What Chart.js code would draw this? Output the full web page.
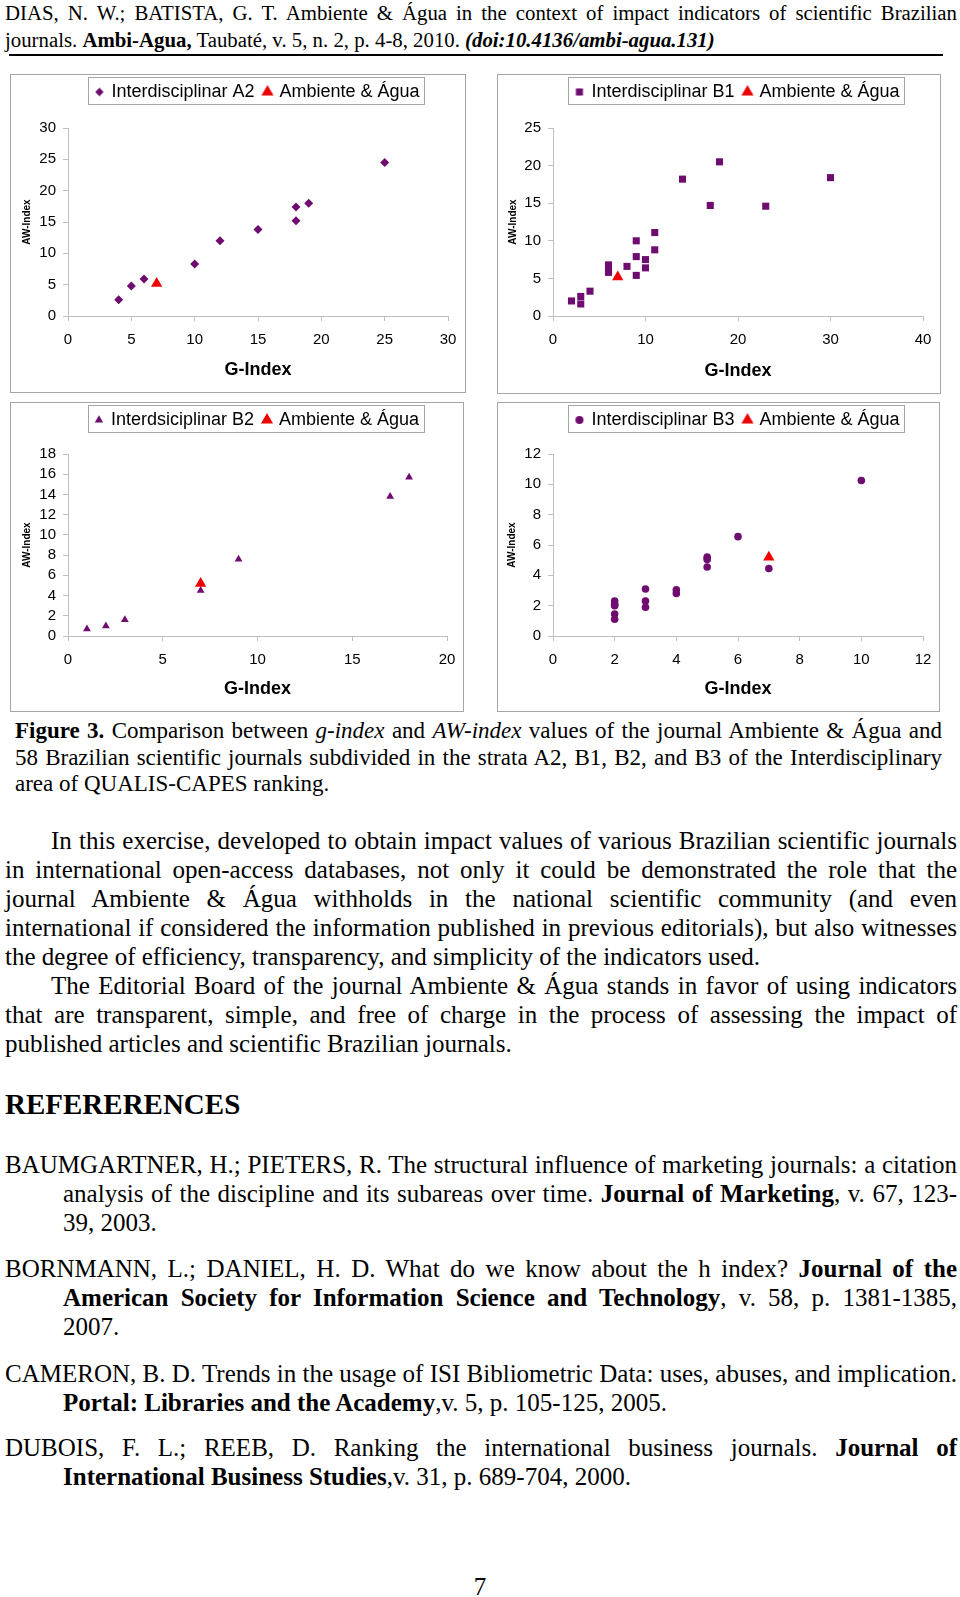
<!DOCTYPE html>
<html>
<head>
<meta charset="utf-8">
<script src="https://cdn.jsdelivr.net/npm/chart.js@4.4.0/dist/chart.umd.min.js"></script>
<style>
  body { margin: 0; width: 960px; height: 1597px; position: relative; overflow: hidden; background: #fff;
         font-family: "Liberation Serif", "Times New Roman", serif; color: #000; }
  .box { position: absolute; border: 1px solid #a6a6a6; box-sizing: border-box; }
  .box canvas { position: absolute; left: -1px; top: -1px; }
  .blk { position: absolute; }
  .blk > div { white-space: nowrap; }
  .j { text-align: justify; text-align-last: justify; }
  .ind { padding-left: 46px; }
  .hang { padding-left: 58px; }
  .rule { position: absolute; left: 9px; top: 54px; width: 934px; height: 2px; background: #000; }
</style>
</head>
<body>

<div class="blk" style="top:0;left:5px;width:952px;font-size:20.8px;line-height:26.5px">
  <div class="j">DIAS, N. W.; BATISTA, G. T. Ambiente &amp; Água in the context of impact indicators of scientific Brazilian</div>
  <div>journals. <b>Ambi-Agua,</b> Taubaté, v. 5, n. 2, p. 4-8, 2010. <b><i>(doi:10.4136/ambi-agua.131)</i></b></div>
</div>
<div class="rule"></div>

<div class="box" style="left:10px;top:74px;width:456px;height:319px"><canvas id="chartA2" width="456" height="319"></canvas></div>
<div class="box" style="left:497px;top:74px;width:444px;height:320px"><canvas id="chartB1" width="444" height="320"></canvas></div>
<div class="box" style="left:10px;top:402px;width:454px;height:310px"><canvas id="chartB2" width="454" height="310"></canvas></div>
<div class="box" style="left:497px;top:402px;width:443px;height:310px"><canvas id="chartB3" width="443" height="310"></canvas></div>

<div class="blk" style="top:718px;left:15px;width:927px;font-size:23px;line-height:26.5px">
  <div class="j"><b>Figure 3.</b> Comparison between <i>g-index</i> and <i>AW-index</i> values of the journal Ambiente &amp; Água and</div>
  <div class="j">58 Brazilian scientific journals subdivided in the strata A2, B1, B2, and B3 of the Interdisciplinary</div>
  <div>area of QUALIS-CAPES ranking.</div>
</div>

<div class="blk" style="top:825.5px;left:5px;width:952px;font-size:25px;line-height:29px">
  <div class="j ind">In this exercise, developed to obtain impact values of various Brazilian scientific journals</div>
  <div class="j">in international open-access databases, not only it could be demonstrated the role that the</div>
  <div class="j">journal Ambiente &amp; Água withholds in the national scientific community (and even</div>
  <div class="j">international if considered the information published in previous editorials), but also witnesses</div>
  <div>the degree of efficiency, transparency, and simplicity of the indicators used.</div>
  <div class="j ind">The Editorial Board of the journal Ambiente &amp; Água stands in favor of using indicators</div>
  <div class="j">that are transparent, simple, and free of charge in the process of assessing the impact of</div>
  <div>published articles and scientific Brazilian journals.</div>
</div>

<div class="blk" style="top:1087px;left:5px;font-size:29px;line-height:34px;font-weight:bold">
  <div>REFERERENCES</div>
</div>

<div class="blk" style="top:1149.5px;left:5px;width:952px;font-size:25px;line-height:29px">
  <div class="j">BAUMGARTNER, H.; PIETERS, R. The structural influence of marketing journals: a citation</div>
  <div class="j hang">analysis of the discipline and its subareas over time. <b>Journal of Marketing</b>, v. 67, 123-</div>
  <div class="hang">39, 2003.</div>
</div>
<div class="blk" style="top:1253.5px;left:5px;width:952px;font-size:25px;line-height:29px">
  <div class="j">BORNMANN, L.; DANIEL, H. D. What do we know about the h index? <b>Journal of the</b></div>
  <div class="j hang"><b>American Society for Information Science and Technology</b>, v. 58, p. 1381-1385,</div>
  <div class="hang">2007.</div>
</div>
<div class="blk" style="top:1358.5px;left:5px;width:952px;font-size:25px;line-height:29px">
  <div class="j">CAMERON, B. D. Trends in the usage of ISI Bibliometric Data: uses, abuses, and implication.</div>
  <div class="hang"><b>Portal: Libraries and the Academy</b>,v. 5, p. 105-125, 2005.</div>
</div>
<div class="blk" style="top:1432.5px;left:5px;width:952px;font-size:25px;line-height:29px">
  <div class="j">DUBOIS, F. L.; REEB, D. Ranking the international business journals. <b>Journal of</b></div>
  <div class="hang"><b>International Business Studies</b>,v. 31, p. 689-704, 2000.</div>
</div>

<div class="blk" style="top:1571.5px;left:0;width:960px;font-size:25px;line-height:29px;text-align:center">
  <div>7</div>
</div>

<script>
// values (G-Index, AW-Index)
const a2G  = [4, 5, 6, 10, 12, 15, 18, 18, 19, 25];
const a2AW = [2.6, 4.8, 5.9, 8.3, 12.0, 13.8, 15.2, 17.4, 18.0, 24.5];

const b1G  = [2, 3, 3, 4, 6, 6, 6, 8, 9, 9, 9, 10, 10, 11, 11, 14, 17, 18, 23, 30];
const b1AW = [2.0, 2.6, 1.6, 3.3, 6.8, 6.3, 5.8, 6.6, 10.0, 7.9, 5.4, 7.5, 6.4, 11.1, 8.8, 18.2, 14.7, 20.5, 14.6, 18.4];

const b2G  = [1, 2, 3, 7, 9, 17, 18];
const b2AW = [0.7, 1.0, 1.6, 4.5, 7.6, 13.8, 15.7];

const b3G  = [2, 2, 2, 2, 2, 3, 3, 3, 4, 4, 5, 5, 5, 6, 7, 10];
const b3AW = [2.3, 2.1, 2.0, 1.45, 1.1, 3.1, 2.3, 1.9, 3.05, 2.8, 5.2, 5.05, 4.55, 6.55, 4.45, 10.25];

// Ambiente & Água, same point on every panel
const ambG  = [7];
const ambAW = [5.2];

const PURPLE = '#6e0c70';
const RED = '#f00000';
const AXIS_GRAY = '#bfbfbf';

Chart.defaults.font.family = '"Liberation Sans", Arial, sans-serif';
Chart.defaults.color = '#000';

// legend markers get their own size, so they are drawn into small canvases
function markerImage(style, radius, color) {
    const size = Math.ceil(radius * 2) + 2;
    const c = document.createElement('canvas');
    c.width = size;
    c.height = size;
    const ctx = c.getContext('2d');
    ctx.fillStyle = color;
    Chart.helpers.drawPoint(ctx, { pointStyle: style, radius: radius, borderWidth: 0, rotation: 0 }, size / 2, size / 2);
    return c;
}

// legend sits at the top of the canvas, with a thin frame round it
const legendFrame = {
    id: 'legendFrame',
    afterLayout(chart) {
        const lg = chart.legend;
        if (!lg) return;
        const h = lg.bottom - lg.top;
        lg.top = -1;
        lg.bottom = h - 1;
    },
    afterDraw(chart) {
        const boxes = chart.legend && chart.legend.legendHitBoxes;
        if (!boxes || !boxes.length) return;
        const left = Math.min(...boxes.map(b => b.left)) - 8;
        const right = Math.max(...boxes.map(b => b.left + b.width)) + 5;
        const top = boxes[0].top - 6;
        const bottom = boxes[0].top + boxes[0].height + 3;
        const ctx = chart.ctx;
        ctx.save();
        ctx.strokeStyle = '#a6a6a6';
        ctx.lineWidth = 1;
        ctx.strokeRect(Math.round(left) + 0.5, Math.round(top) + 0.5, Math.round(right - left), Math.round(bottom - top));
        ctx.restore();
    }
};

function toPoints(xs, ys) {
    return xs.map((x, i) => ({ x: x, y: ys[i] }));
}

/**
 * one panel: journals of a stratum plus the Ambiente & Água point
 * area = [left, top, right, bottom] of the plot inside the canvas
 */
function makePanel(id, cfg) {
    const canvas = document.getElementById(id);
    const W = canvas.width;
    const H = canvas.height;
    const area = cfg.area;
    const marks = [
        markerImage(cfg.style, cfg.legendRadius, PURPLE),
        markerImage('triangle', 7, RED)
    ];

    return new Chart(canvas, {
        type: 'scatter',
        data: {
            datasets: [{
                label: cfg.label,
                data: toPoints(cfg.g, cfg.aw),
                pointStyle: cfg.style,
                pointRadius: cfg.radius,
                backgroundColor: PURPLE,
                borderColor: PURPLE,
                borderWidth: 0,
                order: 1
            }, {
                label: 'Ambiente & Água',
                data: toPoints(ambG, ambAW),
                pointStyle: 'triangle',
                pointRadius: 6.5,
                backgroundColor: RED,
                borderColor: RED,
                borderWidth: 0,
                order: 0
            }]
        },
        plugins: [legendFrame],
        options: {
            responsive: false,
            animation: false,
            devicePixelRatio: 1,
            events: [],
            layout: { padding: 0 },
            plugins: {
                legend: {
                    position: 'top',
                    fullSize: false,
                    labels: {
                        usePointStyle: true,
                        boxWidth: 6,
                        boxHeight: 7,
                        padding: 10,
                        color: '#000',
                        font: { size: 18 },
                        sort: (a, b) => a.datasetIndex - b.datasetIndex,
                        generateLabels: (chart) => {
                            const items = Chart.defaults.plugins.legend.labels.generateLabels(chart);
                            items.forEach(it => { it.pointStyle = marks[it.datasetIndex]; });
                            return items;
                        }
                    }
                },
                tooltip: { enabled: false }
            },
            scales: {
                x: {
                    type: 'linear',
                    min: cfg.xMax[0],
                    max: cfg.xMax[1],
                    ticks: { stepSize: cfg.xStep, padding: 10, autoSkip: false, color: '#000', font: { size: 15 } },
                    grid: { drawOnChartArea: false, tickLength: 5, color: AXIS_GRAY },
                    border: { color: AXIS_GRAY },
                    title: {
                        display: true,
                        text: 'G-Index',
                        color: '#000',
                        font: { size: 18, weight: 'bold' },
                        padding: { top: 0, bottom: 12 }
                    },
                    afterFit: (s) => {
                        s.height = H - area[3];
                        s.paddingLeft = 0;
                        s.paddingRight = W - area[2];
                    }
                },
                y: {
                    type: 'linear',
                    min: cfg.yMax[0],
                    max: cfg.yMax[1],
                    ticks: { stepSize: cfg.yStep, padding: 7, autoSkip: false, color: '#000', font: { size: 15 } },
                    grid: { drawOnChartArea: false, tickLength: 5, color: AXIS_GRAY },
                    border: { color: AXIS_GRAY },
                    title: {
                        display: true,
                        text: 'AW-Index',
                        color: '#000',
                        font: { size: 10, weight: 'bold' },
                        padding: { top: cfg.yTitlePad, bottom: 0 }
                    },
                    afterFit: (s) => {
                        s.width = area[0];
                        s.paddingTop = area[1];
                        s.paddingBottom = 0;
                    }
                }
            }
        }
    });
}

makePanel('chartA2', {
    label: 'Interdisciplinar A2', g: a2G, aw: a2AW, style: 'rectRot', radius: 4.5, legendRadius: 4.2,
    xMax: [0, 30], xStep: 5, yMax: [0, 30], yStep: 5,
    area: [58, 54, 438, 242], yTitlePad: 11
});
makePanel('chartB1', {
    label: 'Interdisciplinar B1', g: b1G, aw: b1AW, style: 'rect', radius: 5, legendRadius: 5,
    xMax: [0, 40], xStep: 10, yMax: [0, 25], yStep: 5,
    area: [56, 54, 426, 242], yTitlePad: 10
});
makePanel('chartB2', {
    label: 'Interdsiciplinar B2', g: b2G, aw: b2AW, style: 'triangle', radius: 4.5, legendRadius: 4.8,
    xMax: [0, 20], xStep: 5, yMax: [0, 18], yStep: 2,
    area: [58, 52, 437, 234], yTitlePad: 11
});
makePanel('chartB3', {
    label: 'Interdisciplinar B3', g: b3G, aw: b3AW, style: 'circle', radius: 3.8, legendRadius: 4,
    xMax: [0, 12], xStep: 2, yMax: [0, 12], yStep: 2,
    area: [56, 52, 426, 234], yTitlePad: 9
});
</script>
</body>
</html>
